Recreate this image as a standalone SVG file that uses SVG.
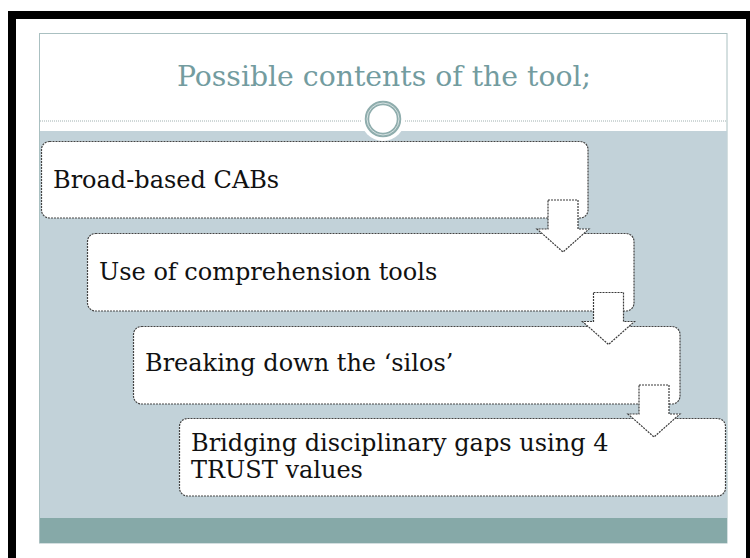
<svg xmlns="http://www.w3.org/2000/svg" width="750" height="558" viewBox="0 0 750 558">
<style>
.box{fill:#ffffff;stroke:#444444;stroke-width:1.2;stroke-dasharray:2 1}
.arrow{fill:#ffffff;stroke:#3a3a3a;stroke-width:1.2;stroke-dasharray:2 1}
.lbl{font-family:'DejaVu Serif','Liberation Serif',serif;font-size:24px;fill:#111111}
.title{font-family:'DejaVu Serif','Liberation Serif',serif;font-size:28.3px;fill:#739c9f}
.dots{stroke:#9fb0b0;stroke-width:1;stroke-dasharray:1 1}
</style>
<defs>
<path id="arr" d="M-15,0 H15 V29 H26 L0,52 L-26,29 H-15 Z"/>
</defs>
<rect x="0" y="0" width="750" height="558" fill="#ffffff"/>
<g id="frame">
<rect x="8" y="11" width="742" height="8" fill="#000000"/>
<rect x="8" y="11" width="8" height="547" fill="#000000"/>
<rect x="746" y="11" width="4" height="547" fill="#000000"/>
</g>
<g id="slide">
<rect x="39.5" y="33.5" width="687.5" height="509.5" fill="#ffffff" stroke="#aac0c1" stroke-width="1"/>
<rect x="40" y="131" width="687" height="387" fill="#c2d2d9"/>
<rect x="40" y="518" width="687" height="25" fill="#86a9a8"/>
<line class="dots" x1="40" y1="121" x2="362" y2="121"/>
<line class="dots" x1="405" y1="121" x2="727" y2="121"/>
<circle cx="383" cy="119" r="22" fill="#ffffff"/>
<circle cx="383" cy="119" r="16" fill="#ffffff" stroke="#8fadad" stroke-width="4.5"/>
<circle cx="383" cy="119" r="16" fill="none" stroke="#d6e2e2" stroke-width="1"/>
<text class="title" x="384" y="86" text-anchor="middle">Possible contents of the tool;</text>
</g>
<g id="node1">
<rect class="box" x="41.5" y="141.5" width="546.5" height="76.5" rx="8"/>
<text class="lbl" x="53" y="188">Broad-based CABs</text>
</g>
<g id="node2">
<rect class="box" x="87.5" y="233.5" width="546.5" height="77.5" rx="8"/>
<text class="lbl" x="99" y="280">Use of comprehension tools</text>
</g>
<g id="node3">
<rect class="box" x="133.5" y="326.5" width="546.5" height="77.5" rx="8"/>
<text class="lbl" x="145" y="371">Breaking down the ‘silos’</text>
</g>
<g id="node4">
<rect class="box" x="179.5" y="418.5" width="546" height="77.5" rx="8"/>
<text class="lbl" x="191" y="451">Bridging disciplinary gaps using 4</text>
<text class="lbl" x="191" y="478">TRUST values</text>
</g>
<g id="connectors">
<use href="#arr" class="arrow" transform="translate(563,200)"/>
<use href="#arr" class="arrow" transform="translate(608.5,292.5)"/>
<use href="#arr" class="arrow" transform="translate(654,385)"/>
</g>
</svg>
